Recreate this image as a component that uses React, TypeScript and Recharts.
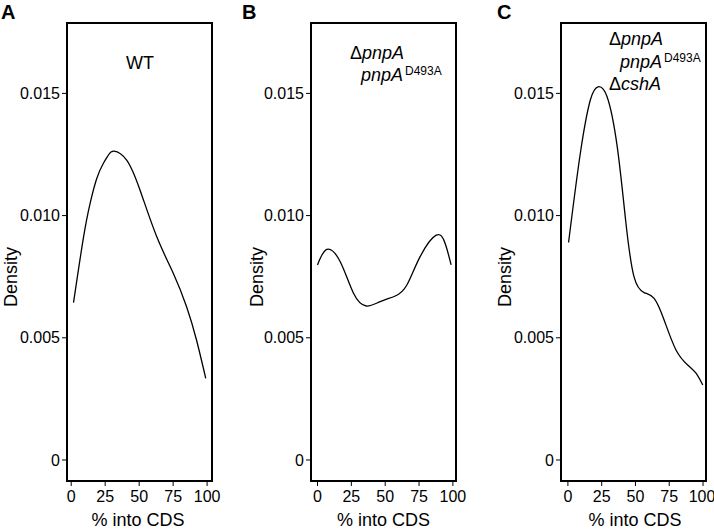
import { LineChart, Line, XAxis, YAxis, ReferenceArea } from "recharts";

// WT
const wtX = [1.7, 9.0, 13.9, 18.8, 23.7, 27.4, 31.5, 40.8, 50.6, 62.9, 75.1, 84.9, 92.2, 99.0];
const wtY = [0.00644, 0.0091, 0.0105, 0.01152, 0.01214, 0.01248, 0.01264, 0.01227, 0.01105, 0.00914, 0.00764, 0.00627, 0.00491, 0.00334];

// ΔpnpA pnpA D493A
const d493X = [0, 6.9, 16.8, 26.6, 36.0, 46.3, 57.4, 66.0, 75.8, 87.7, 94.3, 98.7];
const d493Y = [0.00798, 0.00862, 0.00811, 0.00682, 0.0063, 0.00648, 0.00671, 0.00716, 0.00832, 0.0092, 0.00886, 0.00798];

// ΔpnpA pnpA D493A ΔcshA
const cshX = [0.5, 9.2, 16.6, 22.3, 29.0, 36.5, 42.7, 48.9, 56.4, 63.8, 71.2, 80.0, 88.6, 94.8, 99.8];
const cshY = [0.0089, 0.01255, 0.01473, 0.01527, 0.01486, 0.01282, 0.00982, 0.0075, 0.00685, 0.00661, 0.00573, 0.0045, 0.00389, 0.00355, 0.00307];

const xTicks = [0, 25, 50, 75, 100];
const yTicks = [0, 0.005, 0.01, 0.015];

const font = "'Liberation Sans', Arial, sans-serif";
const yDomain: [number, number] = [-0.00086, 0.01788];

const toRows = (xs: number[], ys: number[]) => xs.map((x, i) => ({ x, y: ys[i] }));

function Panel({ rows, left, width, plotLeft, plotRight, xDomain }: any) {
  const tick = { fill: "#000", fontSize: 16, fontFamily: font };
  return (
    <div style={{ position: "absolute", left, top: 0 }}>
      <LineChart
        width={width}
        height={531}
        data={rows}
        margin={{ top: 23, right: width - plotRight, bottom: 20, left: plotLeft - 57 }}
      >
        <XAxis
          dataKey="x"
          type="number"
          domain={xDomain}
          ticks={xTicks}
          allowDataOverflow
          axisLine={false}
          tickLine={{ stroke: "#000" }}
          tickSize={5}
          tickMargin={5}
          height={30}
          tick={tick}
        />
        <YAxis
          type="number"
          domain={yDomain}
          ticks={yTicks}
          allowDataOverflow
          axisLine={false}
          tickLine={{ stroke: "#000" }}
          tickSize={5}
          tickMargin={2}
          width={57}
          tick={tick}
          tickFormatter={(v: number) => (v === 0 ? "0" : v.toFixed(3))}
        />
        <ReferenceArea
          x1={xDomain[0]}
          x2={xDomain[1]}
          y1={yDomain[0]}
          y2={yDomain[1]}
          fill="none"
          stroke="#000"
          strokeWidth={2}
          ifOverflow="visible"
        />
        <Line
          dataKey="y"
          type="natural"
          stroke="#000"
          strokeWidth={1.3}
          dot={false}
          isAnimationActive={false}
        />
      </LineChart>
    </div>
  );
}

export default function App() {
  const t = { fontFamily: font, fill: "#000" };
  return (
    <div style={{ position: "absolute", left: 0, top: 0, width: 714, height: 531, background: "#fff", overflow: "hidden" }}>
      <Panel rows={toRows(wtX, wtY)} left={0} width={240} plotLeft={67} plotRight={212} xDomain={[-3.1, 103.6]} />
      <Panel rows={toRows(d493X, d493Y)} left={240} width={240} plotLeft={71} plotRight={216} xDomain={[-4.8, 102.3]} />
      <Panel rows={toRows(cshX, cshY)} left={480} width={234} plotLeft={81} plotRight={226} xDomain={[-5.1, 102.2]} />
      <svg width={714} height={531} style={{ position: "absolute", left: 0, top: 0, pointerEvents: "none" }}>
        <text {...t} x={1} y={19} fontSize={20} fontWeight="bold">A</text>
        <text {...t} x={242} y={19} fontSize={20} fontWeight="bold">B</text>
        <text {...t} x={497} y={19} fontSize={20} fontWeight="bold">C</text>

        <text {...t} x={140} y={69} fontSize={18} textAnchor="middle">WT</text>

        <text {...t} x={350} y={59} fontSize={18}>Δ<tspan fontStyle="italic">pnpA</tspan></text>
        <text {...t} x={361} y={81} fontSize={18} fontStyle="italic">pnpA</text>
        <text {...t} x={405} y={75} fontSize={12}>D493A</text>

        <text {...t} x={609} y={45} fontSize={18}>Δ<tspan fontStyle="italic">pnpA</tspan></text>
        <text {...t} x={620} y={68} fontSize={18} fontStyle="italic">pnpA</text>
        <text {...t} x={664} y={62} fontSize={12}>D493A</text>
        <text {...t} x={609} y={90} fontSize={18}>Δ<tspan fontStyle="italic">cshA</tspan></text>

        <text {...t} x={16.5} y={277} fontSize={18} textAnchor="middle" transform="rotate(-90 16.5 277)">Density</text>
        <text {...t} x={262.5} y={277} fontSize={18} textAnchor="middle" transform="rotate(-90 262.5 277)">Density</text>
        <text {...t} x={511} y={277} fontSize={18} textAnchor="middle" transform="rotate(-90 511 277)">Density</text>

        <text {...t} x={138} y={526} fontSize={18} textAnchor="middle">% into CDS</text>
        <text {...t} x={383.5} y={526} fontSize={18} textAnchor="middle">% into CDS</text>
        <text {...t} x={635} y={526} fontSize={18} textAnchor="middle">% into CDS</text>
      </svg>
    </div>
  );
}
